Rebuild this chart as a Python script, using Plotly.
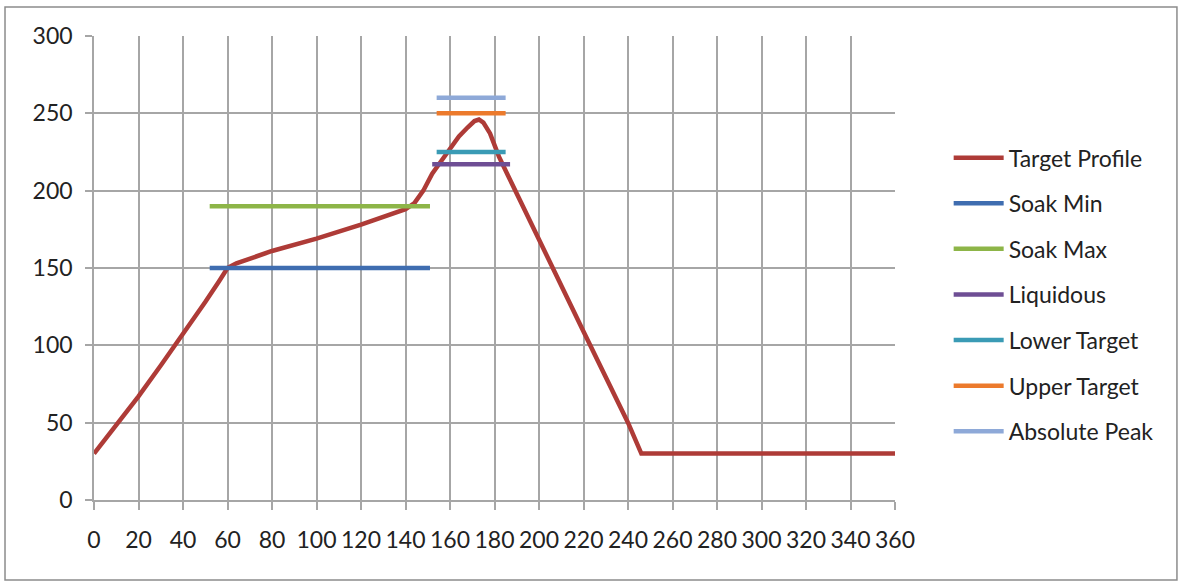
import plotly.graph_objects as go

# Target profile (time s, temperature C)
profile_time = [0, 10, 20, 30, 40, 50, 56, 60, 64, 70, 80, 100, 120, 140, 144, 148, 152, 156,
                160, 164, 168, 171, 173, 175, 178, 182, 186, 200, 220, 240, 246, 360]
profile_temp = [30, 48, 67, 87, 107, 128, 141, 150, 153, 156, 161, 169, 178, 188, 192, 200, 211, 219,
                227, 235, 241, 245, 246, 244, 237, 222, 210, 168, 109, 50, 30, 30]

# Reference limit lines: name, start time, end time, temperature
limit_names = ["Soak Min", "Soak Max", "Liquidous", "Lower Target", "Upper Target", "Absolute Peak"]
limit_start = [52, 52, 152, 154, 154, 154]
limit_end = [151, 151, 187, 185, 185, 185]
limit_temp = [150, 190, 217, 225, 250, 260]

colors = {
    "Target Profile": "#AE3B37",
    "Soak Min": "#3F6DB0",
    "Soak Max": "#8DB548",
    "Liquidous": "#6E4E94",
    "Lower Target": "#3A9BB5",
    "Upper Target": "#EC7A2C",
    "Absolute Peak": "#8EA9D8",
}

x_ticks = list(range(0, 361, 20))
y_ticks = list(range(0, 301, 50))

FONT = "Lato"
fig = go.Figure()
fig.add_trace(go.Scatter(x=profile_time, y=profile_temp, mode="lines", name="Target Profile",
                         legendgroup="g0",
                         line=dict(color=colors["Target Profile"], width=4.5)))
for i, n in enumerate(limit_names):
    fig.add_trace(go.Scatter(x=[limit_start[i], limit_end[i]], y=[limit_temp[i], limit_temp[i]],
                             mode="lines", name=n, legendgroup=f"g{i+1}",
                             line=dict(color=colors[n], width=4.5)))

grid = "#A6A6A6"
fig.update_layout(
    width=1184, height=585,
    margin=dict(l=94, r=289, t=36, b=85),
    paper_bgcolor="white", plot_bgcolor="white",
    font=dict(family=FONT, size=23, color="#222222"),
    legend=dict(x=1.067, y=0.784, xanchor="left", yanchor="top",
                font=dict(family=FONT, size=23, color="#222222"),
                tracegroupgap=12.7, itemwidth=50, bgcolor="rgba(0,0,0,0)"),
    xaxis=dict(range=[0, 360], tickvals=x_ticks, ticktext=[str(v) for v in x_ticks],
               showgrid=True, gridcolor=grid, gridwidth=1.5,
               showline=True, linecolor=grid, linewidth=1.5,
               ticks="outside", ticklen=8, tickcolor=grid, tickwidth=1.5,
               ticklabelstandoff=11, zeroline=False, fixedrange=True),
    yaxis=dict(range=[0, 300], tickvals=y_ticks, ticktext=[str(v) for v in y_ticks],
               showgrid=True, gridcolor=grid, gridwidth=1.5,
               showline=True, linecolor=grid, linewidth=1.5,
               ticks="outside", ticklen=7, tickcolor=grid, tickwidth=1.5,
               ticklabelstandoff=8, zeroline=False, fixedrange=True),
    shapes=[dict(type="rect", xref="paper", yref="paper",
                 x0=-0.1111, x1=1.352, y0=-0.1724, y1=1.0625,
                 line=dict(color="#8C8C8C", width=1.5), fillcolor="rgba(0,0,0,0)", layer="below")],
)

fig.write_html("out.html", config={"displayModeBar": False},
               post_script="document.body.style.margin='0px';document.body.style.overflow='hidden';")
